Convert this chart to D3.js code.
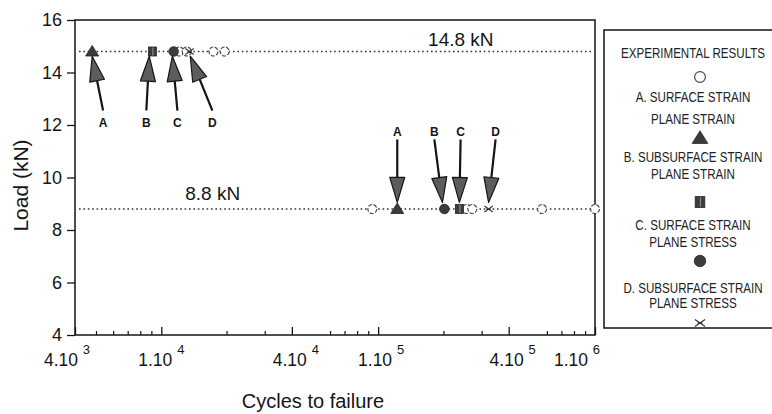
<!DOCTYPE html>
<html>
<head>
<meta charset="utf-8">
<script src="https://cdn.jsdelivr.net/npm/d3@7/dist/d3.min.js"></script>
<style>
  body { margin: 0; background: #fff; }
  svg { display: block; font-family: "Liberation Sans", Arial, sans-serif; }
</style>
</head>
<body>
<svg id="chart"></svg>
<script>
// load levels (kN)
const loadLevels = [14.8, 8.8];
const loadLabels = ["14.8 kN", "8.8 kN"];
const loadLabelAt = [170000, 12900];

// experimental results (open circles), cycles to failure
const openHigh = [12100, 13100, 17400, 19600];
const openLow = [94000, 256000, 272000, 570000, 1000000];

// predictions: [at 14.8 kN, at 8.8 kN]
const predA = [4800, 122500];   // surface strain, plane strain
const predB = [9100, 237000];   // subsurface strain, plane strain
const predC = [11400, 202000];  // surface strain, plane stress
const predD = [13500, 323000];  // subsurface strain, plane stress

// arrows pointing at predictions
const arrowLetters = ["A", "B", "C", "D", "A", "B", "C", "D"];
const arrowGroup = [0, 0, 0, 0, 1, 1, 1, 1];
const arrowTip = [4800, 8800, 11250, 13600, 122500, 198000, 237000, 323000];
const arrowTail = [5390, 8530, 11870, 17200, 122500, 181600, 240000, 348000];
const arrowTipLoad = [14.62, 9.05];
const arrowTailLoad = [12.55, 11.45];
const arrowLabelLoad = [12.1, 11.75];

// axes ticks
const yTicks = [4, 6, 8, 10, 12, 14, 16];
const xMajor = [4000, 1e4, 4e4, 1e5, 4e5, 1e6];
const xMajorMant = ["4.10", "1.10", "4.10", "1.10", "4.10", "1.10"];
const xMajorExp = ["3", "4", "4", "5", "5", "6"];
const xMinor = [5e3, 6e3, 7e3, 8e3, 9e3, 2e4, 3e4, 6e4, 7e4, 8e4, 9e4, 2e5, 3e5, 6e5, 7e5, 8e5, 9e5];

// legend
const legendLines = ["EXPERIMENTAL RESULTS", "A. SURFACE STRAIN", "PLANE STRAIN",
  "B. SUBSURFACE STRAIN", "PLANE STRAIN", "C. SURFACE STRAIN", "PLANE STRESS",
  "D. SUBSURFACE STRAIN", "PLANE STRESS"];
const legendLineY = [53, 97, 119, 157, 174, 225, 242, 288, 303];
const legendSymbols = ["open", "triangle", "square", "circle", "star"];
const legendSymbolY = [77, 138, 202, 261, 323];

const W = 772, H = 414;
const ink = "#151515";
const markFill = "#3c3c3c";

const svg = d3.select("#chart").attr("width", W).attr("height", H);

const x = d3.scaleLog().domain([4000, 1e6]).range([75, 595]);
const y = d3.scaleLinear().domain([4, 16]).range([335, 20]);

// frame
svg.append("rect")
  .attr("x", x(4000)).attr("y", y(16))
  .attr("width", x(1e6) - x(4000)).attr("height", y(4) - y(16))
  .attr("fill", "none").attr("stroke", ink).attr("stroke-width", 1.5);

// y axis
const yAxis = svg.append("g")
  .attr("transform", `translate(${x(4000)},0)`)
  .call(d3.axisLeft(y).tickValues(yTicks).tickSize(8).tickPadding(5));
yAxis.select(".domain").remove();
yAxis.selectAll("line").attr("stroke", ink).attr("stroke-width", 1.3);
yAxis.selectAll("text").attr("font-size", 18).attr("fill", ink)
  .attr("font-family", "Liberation Sans, Arial, sans-serif");

// x axis ticks (inward)
const xMin = svg.append("g")
  .attr("transform", `translate(0,${y(4)})`)
  .call(d3.axisBottom(x).tickValues(xMinor).tickSize(-4).tickFormat(""));
xMin.select(".domain").remove();
xMin.selectAll("line").attr("stroke", ink).attr("stroke-width", 1.2);

const xMaj = svg.append("g")
  .attr("transform", `translate(0,${y(4)})`)
  .call(d3.axisBottom(x).tickValues(xMajor).tickSize(-8).tickFormat(""));
xMaj.select(".domain").remove();
xMaj.selectAll("line").attr("stroke", ink).attr("stroke-width", 1.3);

// x tick labels with exponents
const labelShift = [-8, 0, 4, 3, 4, -18];
const xl = svg.append("g").selectAll("text")
  .data(xMajor)
  .join("text")
  .attr("x", (d, i) => x(d) + labelShift[i])
  .attr("y", 366)
  .attr("text-anchor", "middle")
  .attr("font-size", 17.5)
  .attr("fill", ink);
xl.append("tspan").text((d, i) => xMajorMant[i] + " ");
xl.append("tspan").attr("dy", -12).attr("font-size", 13).text((d, i) => xMajorExp[i]);

// axis titles
svg.append("text")
  .attr("transform", `translate(28,${(y(4) + y(16)) / 2 + 8}) rotate(-90)`)
  .attr("text-anchor", "middle")
  .attr("font-size", 21)
  .attr("fill", ink)
  .text("Load (kN)");

svg.append("text")
  .attr("x", 313).attr("y", 408)
  .attr("text-anchor", "middle")
  .attr("font-size", 20)
  .attr("fill", ink)
  .text("Cycles to failure");

// dotted load lines
svg.append("g").selectAll("line")
  .data(loadLevels)
  .join("line")
  .attr("x1", x(4000) + 4).attr("x2", x(1e6) - 2)
  .attr("y1", d => y(d)).attr("y2", d => y(d))
  .attr("stroke", "#333").attr("stroke-width", 1.6)
  .attr("stroke-dasharray", "1.6,2.8");

svg.append("g").selectAll("text")
  .data(loadLevels)
  .join("text")
  .attr("x", (d, i) => x(loadLabelAt[i]))
  .attr("y", (d, i) => y(d) - (i === 0 ? 6 : 9))
  .attr("font-size", 19)
  .attr("fill", ink)
  .text((d, i) => loadLabels[i]);

// markers
function drawMarker(g, type, cx, cy, s) {
  if (type === "open") {
    g.append("circle").attr("cx", cx).attr("cy", cy).attr("r", 4.5 * s)
      .attr("fill", "#fff").attr("stroke", "#4a4a4a").attr("stroke-width", 1.2)
      .attr("stroke-dasharray", s > 1 ? null : "4,1.5");
  } else if (type === "triangle") {
    g.append("path")
      .attr("d", `M${cx},${cy - 6 * s}L${cx + 6.5 * s},${cy + 4.5 * s}L${cx - 6.5 * s},${cy + 4.5 * s}Z`)
      .attr("fill", markFill).attr("stroke", "#222").attr("stroke-width", 0.8);
  } else if (type === "square") {
    g.append("rect").attr("x", cx - 4 * s).attr("y", cy - 4.5 * s)
      .attr("width", 8 * s).attr("height", 9 * s)
      .attr("fill", markFill).attr("stroke", "#222").attr("stroke-width", 0.8);
    g.append("line").attr("x1", cx + 0.5).attr("x2", cx + 0.5)
      .attr("y1", cy - 4 * s).attr("y2", cy + 4 * s)
      .attr("stroke", "#8a8a8a").attr("stroke-width", 1.2);
  } else if (type === "circle") {
    g.append("circle").attr("cx", cx).attr("cy", cy).attr("r", 4.8 * s)
      .attr("fill", markFill).attr("stroke", "#222").attr("stroke-width", 0.8);
  } else if (type === "star") {
    const r = 4.2 * s;
    g.append("path")
      .attr("d", `M${cx - r},${cy - r * 0.7}L${cx + r},${cy + r * 0.7}M${cx - r},${cy + r * 0.7}L${cx + r},${cy - r * 0.7}M${cx - r * 0.5},${cy}L${cx + r * 0.5},${cy}`)
      .attr("stroke", "#333").attr("stroke-width", 1.1).attr("fill", "none");
  }
}

const marks = svg.append("g");
openHigh.forEach(n => drawMarker(marks, "open", x(n), y(loadLevels[0]), 1));
openLow.forEach(n => drawMarker(marks, "open", x(n), y(loadLevels[1]), 1));
const preds = [["triangle", predA], ["square", predB], ["circle", predC], ["star", predD]];
preds.forEach(([t, arr]) => {
  arr.forEach((n, i) => drawMarker(marks, t, x(n), y(loadLevels[i]), 1));
});

// arrows
const headLen = 25, headW = 7.5;
const arrows = svg.append("g");
arrowLetters.forEach((letter, i) => {
  const g = arrowGroup[i];
  const x0 = x(arrowTail[i]), y0 = y(arrowTailLoad[g]);
  const x1 = x(arrowTip[i]), y1 = y(arrowTipLoad[g]);
  const dx = x1 - x0, dy = y1 - y0;
  const len = Math.hypot(dx, dy);
  const ux = dx / len, uy = dy / len;
  const bx = x1 - ux * headLen, by = y1 - uy * headLen;
  arrows.append("line")
    .attr("x1", x0).attr("y1", y0).attr("x2", bx).attr("y2", by)
    .attr("stroke", ink).attr("stroke-width", 2.2);
  arrows.append("path")
    .attr("d", `M${x1},${y1}L${bx - uy * headW},${by + ux * headW}L${bx + uy * headW},${by - ux * headW}Z`)
    .attr("fill", "#5c5c5c").attr("stroke", ink).attr("stroke-width", 1.2)
    .attr("stroke-linejoin", "round");
  arrows.append("text")
    .attr("x", x0).attr("y", y(arrowLabelLoad[g]) + 4.5)
    .attr("text-anchor", "middle")
    .attr("font-size", 12).attr("font-weight", "bold")
    .attr("fill", ink)
    .text(letter);
});

// legend
const lg = svg.append("g");
lg.append("rect")
  .attr("x", 604).attr("y", 30).attr("width", 200).attr("height", 298)
  .attr("fill", "#fff").attr("stroke", ink).attr("stroke-width", 1.5);
lg.selectAll("text")
  .data(legendLines)
  .join("text")
  .attr("transform", (d, i) => `translate(693,${legendLineY[i] + 5}) scale(0.8,1)`)
  .attr("text-anchor", "middle")
  .attr("font-size", 14.5)
  .attr("fill", "#222")
  .text(d => d);
legendSymbols.forEach((t, i) => drawMarker(lg, t, 700, legendSymbolY[i], 1.2));
</script>
</body>
</html>
